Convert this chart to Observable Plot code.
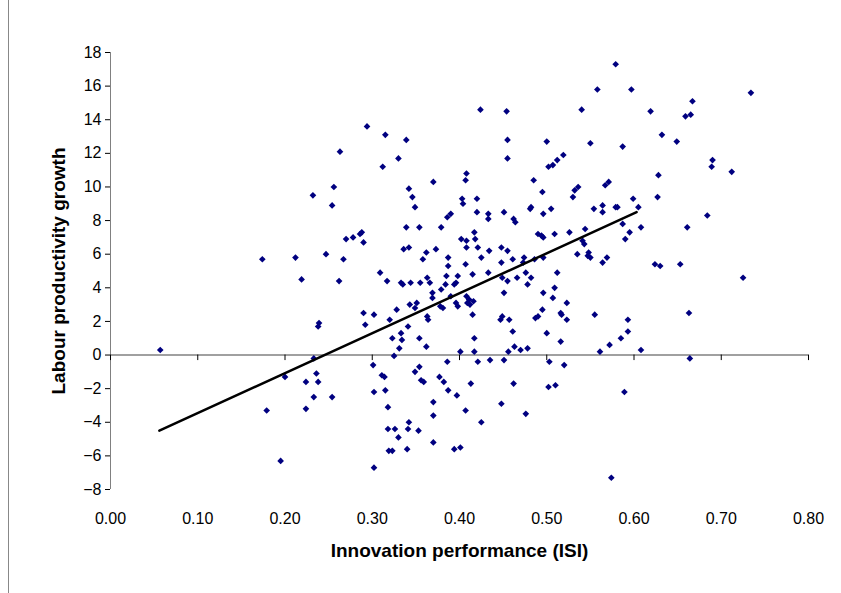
<!DOCTYPE html>
<html><head><meta charset="utf-8">
<script src="https://cdn.jsdelivr.net/npm/d3@7"></script>
<script src="https://cdn.jsdelivr.net/npm/@observablehq/plot@0.6"></script>
<style>
body{margin:0;background:#fff;}
#chart{position:relative;width:841px;height:593px;}
#border{position:absolute;left:8px;top:0;width:1px;height:593px;background:#888;}
</style>
</head><body>
<div id="chart"><div id="border"></div></div>
<script>
const isi = [
0.424,0.294,0.315,0.339,0.263,0.330,0.312,0.408,0.407,0.256,0.342,0.370,0.232,0.346,0.403,0.420,
0.579,0.558,0.597,0.454,0.540,0.619,0.632,0.455,0.500,0.550,0.587,0.455,0.519,0.512,0.507,0.502,0.485,0.495,0.628,0.536,0.532,0.571,0.567,0.530,0.599,0.627,
0.734,0.667,0.659,0.665,0.649,0.690,0.689,0.712,
0.174,0.212,0.219,0.239,0.238,0.057,
0.254,0.349,0.404,0.420,0.386,0.390,0.433,0.433,0.339,0.354,
0.379,0.417,0.418,0.270,0.278,0.286,0.288,0.290,0.402,0.408,
0.408,0.421,0.336,0.342,0.373,0.362,0.358,0.247,0.267,0.387,
0.387,0.425,0.407,0.433,0.415,0.309,0.317,0.262,0.333,0.335,
0.344,0.355,0.363,0.366,0.385,0.398,0.384,0.394,0.396,0.379,
0.369,0.369,0.390,0.343,0.351,0.349,0.396,0.398,0.408,0.411,
0.409,0.416,0.412,0.378,0.381,0.328,0.290,0.302,0.292,0.320,
0.341,0.363,0.364,0.415,0.333,0.323,0.334,0.354,0.331,0.362,
0.417,0.401,0.417,
0.451,0.462,0.464,0.481,0.482,0.496,0.505,0.554,0.564,0.564,
0.579,0.581,0.605,0.587,0.608,0.595,0.590,0.490,0.494,0.496,
0.509,0.526,0.544,0.541,0.543,0.448,0.455,0.434,0.461,0.474,
0.473,0.486,0.496,0.448,0.535,0.548,0.550,0.547,0.569,0.564,
0.624,0.630,0.512,0.476,0.482,0.466,0.449,0.455,0.478,0.451,
0.496,0.509,0.507,0.523,0.495,0.516,0.517,0.523,0.490,0.487,
0.449,0.447,0.457,0.461,0.500,0.555,0.593,0.593,0.585,0.572,
0.516,0.463,0.456,0.470,0.478,0.561,0.608,
0.684,0.661,0.653,0.725,0.663,
0.233,0.200,0.236,0.224,0.238,0.233,0.179,0.224,0.195,
0.254,0.301,0.325,0.311,0.314,0.302,0.315,0.318,0.349,0.354,
0.356,0.359,0.377,0.382,0.387,0.386,0.421,0.435,0.413,0.397,
0.370,0.370,0.407,0.425,0.342,0.318,0.326,0.341,0.353,0.330,
0.319,0.323,0.340,0.370,0.394,0.401,0.302,
0.451,0.503,0.520,0.462,0.502,0.510,0.448,0.476,0.589,0.574,0.664
];
const growth = [
14.6,13.6,13.1,12.8,12.1,11.7,11.2,10.8,10.4,10.0,9.9,10.3,9.5,9.4,9.3,9.3,
17.3,15.8,15.8,14.5,14.6,14.5,13.1,12.8,12.7,12.6,12.4,11.7,11.9,11.6,11.3,11.2,10.4,9.7,10.7,10.0,9.8,10.3,10.1,9.4,9.3,9.4,
15.6,15.1,14.2,14.3,12.7,11.6,11.2,10.9,
5.7,5.8,4.5,1.9,1.7,0.3,
8.9,8.8,9.0,8.5,8.2,8.4,8.4,8.1,7.6,7.6,
7.6,7.3,6.9,6.9,7.0,7.2,7.3,6.7,6.9,6.8,
6.4,6.4,6.3,6.4,6.3,6.1,5.7,6.0,5.7,5.8,
5.3,5.8,5.4,4.9,4.8,4.9,4.4,4.4,4.3,4.2,
4.3,4.3,4.6,4.3,4.7,4.7,4.2,4.2,4.3,3.9,
3.7,3.4,3.5,3.0,3.1,2.8,3.1,2.9,3.5,3.3,
3.1,3.2,3.0,2.9,2.8,2.7,2.5,2.4,1.8,2.1,
1.7,2.3,2.1,2.4,1.3,1.0,0.9,1.0,0.4,0.5,
1.0,0.2,0.2,
8.5,8.1,7.9,8.7,8.8,8.4,8.7,8.7,8.9,8.5,
8.8,8.8,8.8,7.8,7.6,7.3,6.9,7.2,7.1,7.0,
7.2,7.3,7.5,6.8,6.6,6.4,6.2,6.2,5.7,5.8,
5.5,5.7,5.8,5.5,6.0,6.1,5.8,5.9,5.8,5.5,
5.4,5.3,4.9,4.9,4.6,4.6,4.6,4.4,4.2,3.7,
3.7,4.0,3.4,3.1,2.7,2.5,2.4,2.1,2.3,2.2,
2.3,2.1,2.1,1.4,1.3,2.4,2.1,1.4,1.0,0.6,
0.8,0.5,0.2,0.3,0.4,0.2,0.3,
8.3,7.6,5.4,4.6,2.5,
-0.2,-1.3,-1.1,-1.6,-1.6,-2.5,-3.3,-3.2,-6.3,
-2.5,-0.6,-0.05,-1.2,-1.3,-2.2,-2.1,-3.1,-1.0,-0.7,
-1.5,-1.6,-1.3,-1.6,-2.1,-0.4,-0.4,-0.3,-1.7,-2.4,
-2.8,-3.6,-3.3,-4.0,-4.0,-4.4,-4.4,-4.4,-4.5,-4.9,
-5.7,-5.7,-5.6,-5.2,-5.6,-5.5,-6.7,
-0.3,-0.4,-0.6,-1.7,-1.9,-1.8,-2.9,-3.5,-2.2,-7.3,-0.2
];
const trendX = [0.056, 0.603];
const trendY = [-4.5, 8.5];
const xTicks = [0, 0.1, 0.2, 0.3, 0.4, 0.5, 0.6, 0.7, 0.8];
const yTicks = [-8, -6, -4, -2, 0, 2, 4, 6, 8, 10, 12, 14, 16, 18];
const xTitle = "Innovation performance (ISI)";
const yTitle = "Labour productivity growth";

const n = Math.min(isi.length, growth.length);
const points = d3.range(n).map(i => ({x: isi[i], y: growth[i]}));
const trend = trendX.map((x, i) => ({x, y: trendY[i]}));

const plot = Plot.plot({
  width: 841, height: 593,
  marginLeft: 110, marginRight: 33, marginTop: 52, marginBottom: 104,
  style: {fontFamily: "'Liberation Sans', Arial, sans-serif", fontSize: "16px", color: "#000", background: "transparent"},
  x: {domain: [0, 0.8], label: null},
  y: {domain: [-8, 18], label: null},
  marks: [
    Plot.ruleX([0], {stroke: "#808080", strokeWidth: 1}),
    Plot.ruleY([0], {stroke: "#808080", strokeWidth: 1.5}),
    Plot.ruleX(xTicks, {x: d => d, y1: 0, y2: -0.33, stroke: "#000"}),
    Plot.axisY({ticks: yTicks, tickSize: 5, tickPadding: 4, label: null, fontSize: 16}),
    Plot.axisX({ticks: xTicks, tickSize: 0, tickPadding: 23, tickFormat: d3.format(".2f"), label: null, fontSize: 16}),
    Plot.dot(points, {x: "x", y: "y", symbol: "diamond2", r: 3, fill: "#000080", stroke: "none"}),
    Plot.line(trend, {x: "x", y: "y", stroke: "#000", strokeWidth: 2.5}),
    Plot.text([xTitle], {frameAnchor: "bottom", dy: 61, textAnchor: "middle", lineAnchor: "middle", fontWeight: "bold", fontSize: 19}),
    Plot.text([yTitle], {frameAnchor: "left", dx: -52, rotate: -90, textAnchor: "middle", lineAnchor: "middle", fontWeight: "bold", fontSize: 19})
  ]
});
document.getElementById("chart").appendChild(plot);
</script>
</body></html>
